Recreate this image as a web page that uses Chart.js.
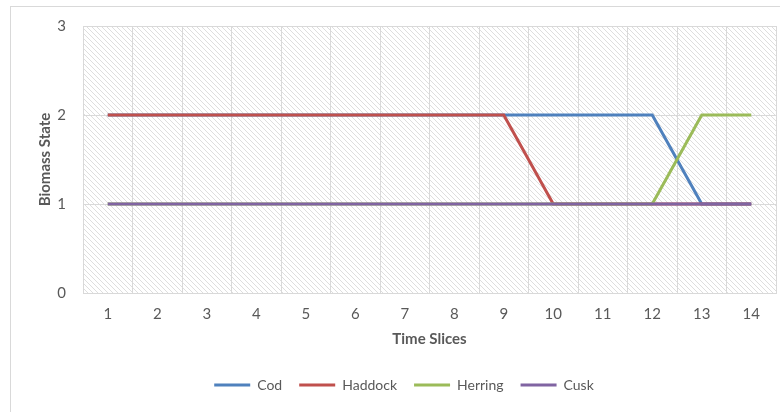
<!DOCTYPE html>
<html>
<head>
<meta charset="utf-8">
<script src="https://cdn.jsdelivr.net/npm/chart.js@4/dist/chart.umd.min.js"></script>
<style>
  html, body { margin: 0; padding: 0; background: #ffffff; }
  #wrap { position: relative; width: 780px; height: 412px; overflow: hidden; }
  #frame { position: absolute; left: 10px; top: 6px; width: 800px; height: 440px;
           border: 1px solid #d9d9d9; box-sizing: border-box; }
  #c { position: absolute; left: 0; top: 0; }
</style>
</head>
<body>
<div id="wrap">
  <div id="frame"></div>
  <canvas id="c" width="780" height="412"></canvas>
</div>
<script>
// Time slices on the horizontal axis
const timeSlices = ['1', '2', '3', '4', '5', '6', '7', '8', '9', '10', '11', '12', '13', '14'];

// Biomass state per species for each time slice
const cod     = [2, 2, 2, 2, 2, 2, 2, 2, 2, 2, 2, 2, 1, 1];
const haddock = [2, 2, 2, 2, 2, 2, 2, 2, 2, 1, 1, 1, 1, 1];
const herring = [1, 1, 1, 1, 1, 1, 1, 1, 1, 1, 1, 1, 2, 2];
const cusk    = [1, 1, 1, 1, 1, 1, 1, 1, 1, 1, 1, 1, 1, 1];

const speciesNames = ['Cod', 'Haddock', 'Herring', 'Cusk'];
const speciesColors = ['#4f81bd', '#c0504d', '#9bbb59', '#8064a2'];

const yTicks = [0, 1, 2, 3];

const FONT = 'Lato, "Liberation Sans", sans-serif';
const TEXT = '#595959';
const GRID = '#d9d9d9';

// Diagonal hatch fill for the plot area
function makeHatch() {
  const s = 5;
  const tile = document.createElement('canvas');
  tile.width = s; tile.height = s;
  const t = tile.getContext('2d');
  t.fillStyle = '#ffffff';
  t.fillRect(0, 0, s, s);
  t.strokeStyle = '#dedede';
  t.lineWidth = 1;
  t.beginPath();
  t.moveTo(-1, -1); t.lineTo(s + 1, s + 1);
  t.moveTo(-1, s - 1); t.lineTo(1, s + 1);
  t.moveTo(s - 1, -1); t.lineTo(s + 1, 1);
  t.stroke();
  return t.createPattern(tile, 'repeat');
}

const hatchBackground = {
  id: 'hatchBackground',
  beforeDraw(chart) {
    const { ctx, chartArea: a } = chart;
    ctx.save();
    ctx.fillStyle = makeHatch();
    ctx.fillRect(a.left, a.top, a.right - a.left, a.bottom - a.top);
    ctx.restore();
  }
};

const seriesValues = [cod, haddock, herring, cusk];

new Chart(document.getElementById('c'), {
  type: 'line',
  data: {
    labels: timeSlices,
    datasets: seriesValues.map((vals, i) => ({
      label: speciesNames[i],
      data: vals,
      borderColor: speciesColors[i],
      backgroundColor: speciesColors[i],
      borderWidth: 3,
      pointRadius: 0,
      pointHoverRadius: 0,
      tension: 0,
      fill: false,
      // later species are drawn over earlier ones
      order: seriesValues.length - i
    }))
  },
  options: {
    responsive: false,
    animation: false,
    devicePixelRatio: 1,
    layout: { padding: { left: 32, right: 4, top: 26, bottom: 10 } },
    plugins: {
      tooltip: { enabled: false },
      legend: {
        position: 'bottom',
        labels: {
          usePointStyle: true,
          pointStyle: 'line',
          pointStyleWidth: 36,
          padding: 17,
          color: TEXT,
          font: { family: FONT, size: 14 },
          sort: (a, b) => a.datasetIndex - b.datasetIndex
        }
      }
    },
    scales: {
      x: {
        type: 'category',
        offset: true,
        grid: { offset: true, color: GRID, drawTicks: false },
        border: { display: true, color: GRID },
        ticks: { color: TEXT, font: { family: FONT, size: 15 }, padding: 12, maxRotation: 0 },
        title: {
          display: true, text: 'Time Slices', color: TEXT,
          font: { family: FONT, size: 15, weight: 'bold' },
          padding: { top: 0, bottom: 13 }
        },
        afterFit(scale) { scale.height = 68; }
      },
      y: {
        min: 0,
        max: 3,
        afterBuildTicks(scale) { scale.ticks = yTicks.map(v => ({ value: v })); },
        grid: { color: GRID, drawTicks: false },
        border: { display: false },
        ticks: { color: TEXT, font: { family: FONT, size: 15 }, padding: 17 },
        title: {
          display: true, text: 'Biomass State', color: TEXT,
          font: { family: FONT, size: 15, weight: 'bold' },
          padding: { top: 4, bottom: 0 }
        },
        afterFit(scale) { scale.width = 51; }
      }
    }
  },
  plugins: [hatchBackground]
});
</script>
</body>
</html>
